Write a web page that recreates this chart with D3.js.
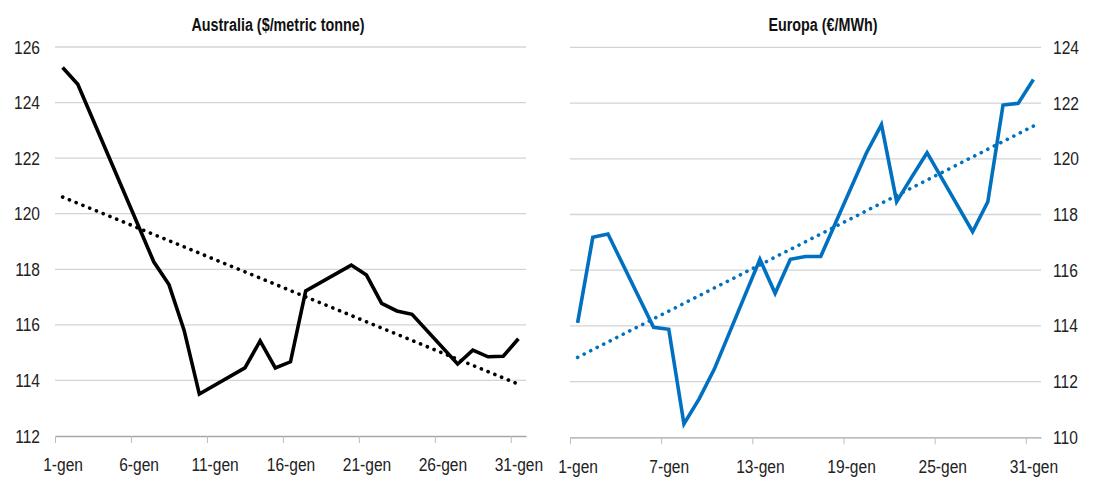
<!DOCTYPE html>
<html>
<head>
<meta charset="utf-8">
<script src="https://cdn.jsdelivr.net/npm/d3@7"></script>
<style>
  html, body { margin: 0; padding: 0; background: #fff; }
  svg text { font-family: "Liberation Sans Narrow", "Arial Narrow", "Liberation Sans", Arial, sans-serif; fill: #222; }
  .title { font-weight: bold; font-size: 17.5px; fill: #111; }
  .tick text { font-size: 19px; }
</style>
</head>
<body>
<svg id="chart" width="1093" height="482"></svg>
<script>
// Trading days in January (gen = gennaio)
const days = [1, 2, 3, 6, 7, 8, 9, 10, 13, 14, 15, 16, 17, 20, 21, 22, 23, 24, 27, 28, 29, 30, 31];

// Australia coal price, $/metric tonne
const australia = [125.26, 124.66, 123.38, 119.55, 118.27, 117.45, 115.8, 113.51, 114.45, 115.42,
                   114.45, 114.67, 117.22, 118.15, 117.79, 116.77, 116.5, 116.38, 114.59, 115.09,
                   114.85, 114.87, 115.5];

// Europe price, €/MWh
const europa = [114.11, 117.18, 117.3, 113.95, 113.88, 110.48, 111.38, 112.45, 116.39, 115.17,
                116.39, 116.49, 116.49, 120.2, 121.23, 118.46, 119.35, 120.22, 117.38, 118.46,
                121.93, 121.99, 122.85];

const ausTicks = [112, 114, 116, 118, 120, 122, 124, 126];
const eurTicks = [110, 112, 114, 116, 118, 120, 122, 124];
const ausLabelDays = [1, 6, 11, 16, 21, 26, 31];
const eurLabelDays = [1, 7, 13, 19, 25, 31];

const NARROW = 0.82; // condensed text width

const svg = d3.select("#chart");

// least-squares linear trend
function trend(xs, ys) {
  const n = xs.length;
  const mx = d3.mean(xs), my = d3.mean(ys);
  let sxy = 0, sxx = 0;
  for (let i = 0; i < n; i++) { sxy += (xs[i] - mx) * (ys[i] - my); sxx += (xs[i] - mx) ** 2; }
  const b = sxy / sxx, a = my - b * mx;
  const x0 = d3.min(xs), x1 = d3.max(xs);
  return [[x0, a + b * x0], [x1, a + b * x1]];
}

// squeeze a text horizontally around its own anchor point
function condense(sel) {
  sel.each(function () {
    const t = d3.select(this);
    const ax = +t.attr("x") || 0;
    t.attr("transform", `translate(${ax},0) scale(${NARROW},1) translate(${-ax},0)`);
  });
}

function panel(opts) {
  const { left, right, top, bottom, yDomain, yTicks, labelDays, values, color, title, titleX, axisSide } = opts;
  const g = svg.append("g");
  const x = d3.scaleLinear().domain([0.5, 31.5]).range([left, right]);
  const y = d3.scaleLinear().domain(yDomain).range([bottom, top]);

  // value labels
  const yAxis = (axisSide === "left" ? d3.axisLeft(y) : d3.axisRight(y))
    .tickValues(yTicks).tickFormat(d3.format("d"))
    .tickSize(0).tickPadding(axisSide === "left" ? 15 : 12);
  const ya = g.append("g")
    .attr("transform", `translate(${axisSide === "left" ? left : right},0)`)
    .call(yAxis);
  ya.select(".domain").remove();
  ya.selectAll(".tick text").call(condense);

  // gridlines
  g.append("g").selectAll("line").data(yTicks.slice(1)).join("line")
    .attr("x1", left).attr("x2", right)
    .attr("y1", d => y(d)).attr("y2", d => y(d))
    .attr("stroke", "#d4d4d4").attr("stroke-width", 1.3);

  // baseline with tick marks at day boundaries
  const xa = g.append("g").attr("transform", `translate(0,${bottom})`)
    .call(d3.axisBottom(x).tickValues(labelDays.map(d => d - 0.5)).tickFormat("").tickSize(7).tickSizeOuter(0));
  xa.select(".domain").attr("stroke", "#a6a6a6").attr("stroke-width", 1.3);
  xa.selectAll(".tick line").attr("stroke", "#bdbdbd");

  // day labels centered on each day
  const xl = g.append("g").attr("transform", `translate(0,${bottom})`)
    .call(d3.axisBottom(x).tickValues(labelDays).tickFormat(d => d + "-gen").tickSize(0).tickPadding(22));
  xl.select(".domain").remove();
  xl.selectAll(".tick text").call(condense);

  // title
  g.append("text").attr("class", "title")
    .attr("x", titleX).attr("y", 31)
    .attr("text-anchor", "middle").text(title)
    .call(condense);

  const line = d3.line().x(d => x(d[0])).y(d => y(d[1]));
  const pts = days.map((d, i) => [d, values[i]]);

  // dotted linear trend
  g.append("path").datum(trend(days, values))
    .attr("d", line).attr("fill", "none").attr("stroke", color)
    .attr("stroke-width", 3.6).attr("stroke-linecap", "round")
    .attr("stroke-dasharray", "0.1 7.2");

  // price line
  g.append("path").datum(pts)
    .attr("d", line).attr("fill", "none").attr("stroke", color)
    .attr("stroke-width", 3.6).attr("stroke-linejoin", "miter").attr("stroke-miterlimit", 3);
}

panel({
  left: 55, right: 526, top: 47, bottom: 436,
  yDomain: [112, 126], yTicks: ausTicks, labelDays: ausLabelDays,
  values: australia, color: "#000000",
  title: "Australia ($/metric tonne)", titleX: 278, axisSide: "left"
});

panel({
  left: 570, right: 1041, top: 47.4, bottom: 437.3,
  yDomain: [110, 124], yTicks: eurTicks, labelDays: eurLabelDays,
  values: europa, color: "#0070C0",
  title: "Europa (€/MWh)", titleX: 823, axisSide: "right"
});
</script>
</body>
</html>
